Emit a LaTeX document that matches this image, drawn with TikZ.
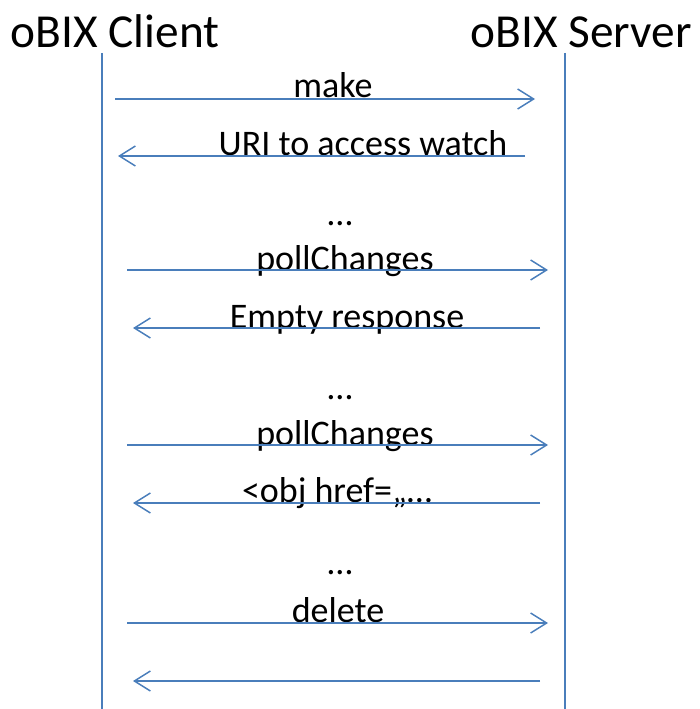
\documentclass[tikz,border=0pt]{standalone}
\usepackage{fontspec}
\setmainfont{Carlito}
\usetikzlibrary{arrows.meta,positioning}
\definecolor{msgblue}{HTML}{4A7EBB}

\begin{document}
\begin{tikzpicture}[x=0.75pt, y=-0.75pt,
    life/.style={draw=msgblue, line width=1.1pt},
    msg/.style={draw=msgblue, line width=1.1pt, -{Straight Barb[length=12pt,width=15pt]}},
    lbl/.style={anchor=base, inner sep=0pt, font=\fontsize{27}{30}\selectfont},
    title/.style={anchor=base, inner sep=0pt, font=\fontsize{35.5}{40}\selectfont}]
   \useasboundingbox (0,0) rectangle (699,709);
   % participants
   \node[title] (client) at (115,48) {oBIX Client};
   \node[title] (server) at (581,48) {oBIX Server};
   \coordinate (c0) at (102,53);  \coordinate (c1) at (102,709);
   \coordinate (s0) at (565,53);  \coordinate (s1) at (565,709);
   \draw[life] (c0) -- (c1);
   \draw[life] (s0) -- (s1);
   % message ends
   \coordinate (m1a) at (115,99);  \coordinate (m1b) at (535,99);
   \coordinate (m2a) at (525,156); \coordinate (m2b) at (118,156);
   \coordinate (m3a) at (127,270); \coordinate (m3b) at (548,270);
   \coordinate (m4a) at (540,328); \coordinate (m4b) at (133,328);
   \coordinate (m5a) at (127,445); \coordinate (m5b) at (548,445);
   \coordinate (m6a) at (540,503); \coordinate (m6b) at (133,503);
   \coordinate (m7a) at (127,623); \coordinate (m7b) at (548,623);
   \coordinate (m8a) at (540,681); \coordinate (m8b) at (133,681);
   % labels
   \node[lbl] (make) at (333,98) {make};
   \node[lbl] (uri) at (363,156) {URI to access watch};
   \node[lbl] (dots1) at (340,225) {…};
   \node[lbl] (poll1) at (345,270) {pollChanges};
   \node[lbl] (empty) at (347,328) {Empty response};
   \node[lbl] (dots2) at (340,399) {…};
   \node[lbl] (poll2) at (345,445) {pollChanges};
   \node[lbl] (obj) at (337,502) {<obj href=„…};
   \node[lbl] (dots3) at (340,574) {…};
   \node[lbl] (del) at (338,622) {delete};
   % messages
   \draw[msg] (m1a) -- (m1b);
   \draw[msg] (m2a) -- (m2b);
   \draw[msg] (m3a) -- (m3b);
   \draw[msg] (m4a) -- (m4b);
   \draw[msg] (m5a) -- (m5b);
   \draw[msg] (m6a) -- (m6b);
   \draw[msg] (m7a) -- (m7b);
   \draw[msg] (m8a) -- (m8b);
\end{tikzpicture}
\end{document}
